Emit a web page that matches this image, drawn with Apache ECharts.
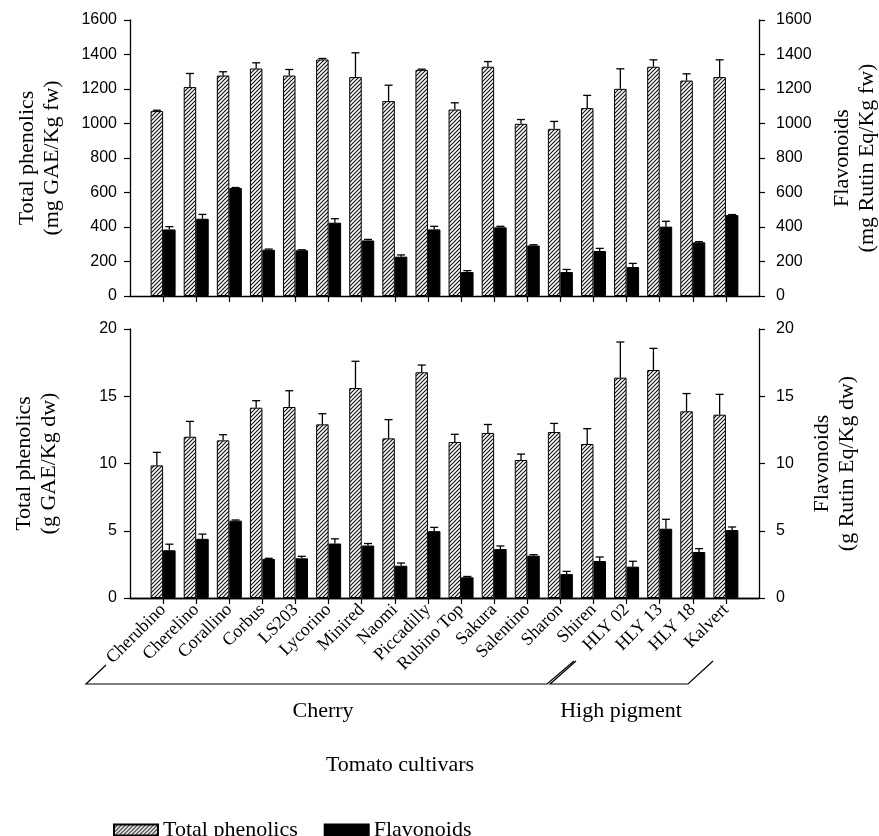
<!DOCTYPE html>
<html><head><meta charset="utf-8">
<script src="https://cdn.jsdelivr.net/npm/echarts@6/dist/echarts.min.js"></script>
<style>html,body{margin:0;padding:0;background:#fff}#c{width:879px;height:836px}</style>
</head><body><div id="c"></div>
<script>
// ---- data ----
const cultivars = ['Cherubino','Cherelino','Corallino','Corbus','LS203','Lycorino','Minired','Naomi','Piccadilly','Rubino Top','Sakura','Salentino','Sharon','Shiren','HLY 02','HLY 13','HLY 18','Kalvert'];
const phenolicsFw    = [1072,1211,1278,1319,1278,1371,1269,1130,1311,1081,1329,998,969,1089,1201,1329,1249,1269];
const phenolicsFwErr = [5,79,22,33,35,6,141,92,4,39,30,25,43,74,116,40,39,100];
const flavonoidsFw    = [386,448,626,268,265,425,322,228,386,139,398,293,139,261,168,402,311,469];
const flavonoidsFwErr = [16,25,3,4,3,23,6,10,18,8,6,4,15,15,21,31,4,3];
const phenolicsDw    = [9.86,11.99,11.72,14.15,14.2,12.91,15.61,11.87,16.78,11.6,12.27,10.26,12.34,11.45,16.38,16.95,13.88,13.63];
const phenolicsDwErr = [0.97,1.14,0.42,0.52,1.21,0.79,1.99,1.39,0.54,0.57,0.63,0.44,0.64,1.14,2.65,1.61,1.32,1.51];
const flavonoidsDw    = [3.55,4.4,5.75,2.9,2.95,4.05,3.9,2.4,4.97,1.54,3.64,3.15,1.78,2.75,2.33,5.15,3.42,5.05];
const flavonoidsDwErr = [0.45,0.35,0.05,0.05,0.15,0.35,0.15,0.2,0.28,0.06,0.23,0.07,0.2,0.3,0.4,0.7,0.25,0.23];
const fwTicks = {min:0, max:1600, interval:200};
const dwTicks = {min:0, max:20, interval:5};
const seriesNames = ['Total phenolics','Flavonoids'];
const groupLabels = ['Cherry','High pigment'];
const xTitle = 'Tomato cultivars';
const yTitles = ['Total phenolics\n(mg GAE/Kg fw)','Flavonoids\n(mg Rutin Eq/Kg fw)','Total phenolics\n(g GAE/Kg dw)','Flavonoids\n(g Rutin Eq/Kg dw)'];

// ---- build ----
const cats = [''].concat(cultivars, ['']);
const N = cats.length;
const BAR_W = 12.5;
const SERIF = '"Liberation Serif","Times New Roman",serif';
const SANS = '"Liberation Sans",Arial,sans-serif';

function hatch(){
  const s = 4, c = document.createElement('canvas'); c.width = c.height = s;
  const g = c.getContext('2d');
  g.fillStyle = '#fff'; g.fillRect(0,0,s,s);
  g.strokeStyle = '#111'; g.lineWidth = 1.15;
  g.beginPath();
  g.moveTo(0,s); g.lineTo(s,0);
  g.moveTo(-1,1); g.lineTo(1,-1);
  g.moveTo(s-1,s+1); g.lineTo(s+1,s-1);
  g.stroke();
  return c;
}
const hatchFill = {image: hatch(), repeat: 'repeat'};

function bars(name, xi, yi, vals, fill){
  return {name, type:'bar', xAxisIndex:xi, yAxisIndex:yi, barWidth:BAR_W, barGap:'0%',
    data: vals.map((v,i)=>[i+1, v]),
    itemStyle:{color:fill, borderColor:'#000', borderWidth:1},
    emphasis:{disabled:true}, z:2};
}
function errs(xi, yi, vals, e, side){
  return {type:'custom', xAxisIndex:xi, yAxisIndex:yi, z:5, silent:true,
    data: vals.map((v,i)=>[i+1, v, v+e[i]]),
    renderItem:(params, api)=>{
      const lo = api.coord([api.value(0), api.value(1)]);
      const hi = api.coord([api.value(0), api.value(2)]);
      const cx = lo[0] + side*BAR_W/2;
      return {type:'group', children:[
        {type:'line', shape:{x1:cx,y1:lo[1],x2:cx,y2:hi[1]}, style:{stroke:'#000', lineWidth:1.3}},
        {type:'line', shape:{x1:cx-4,y1:hi[1],x2:cx+4,y2:hi[1]}, style:{stroke:'#000', lineWidth:1.3}}
      ]};
    }};
}
const axLine = {show:true, lineStyle:{color:'#000', width:1.3}};
function xAx(grid, labels){
  return {type:'category', gridIndex:grid, data:cats, boundaryGap:false,
    axisLine:axLine,
    axisTick:{show:true, inside:false, length:6, lineStyle:{color:'#000', width:1.2}, interval:(i)=>i>0 && i<N-1},
    axisLabel: labels ? {show:true, interval:0, rotate:45, margin:9, fontFamily:SERIF, fontSize:18, color:'#000'} : {show:false},
    splitLine:{show:false}};
}
function yAx(grid, pos, t, name, gap){
  return {type:'value', gridIndex:grid, position:pos, min:t.min, max:t.max, interval:t.interval,
    axisLine:axLine,
    axisTick:{show:true, inside:false, length:6, lineStyle:{color:'#000', width:1.2}},
    axisLabel:{fontFamily:SANS, fontSize:16, color:'#000', margin: pos==='left'?13:17, formatter:(v)=>String(v)},
    splitLine:{show:false},
    name, nameLocation:'middle', nameRotate:90, nameGap:gap,
    nameTextStyle:{fontFamily:SERIF, fontSize:22, lineHeight:25, color:'#000'}};
}

const option = {
  animation:false,
  backgroundColor:'#fff',
  grid:[
    {left:130, right:120, top:20, height:276, outerBoundsMode:'none', containLabel:false},
    {left:130, right:120, top:329, height:269, outerBoundsMode:'none', containLabel:false}
  ],
  xAxis:[
    xAx(0,false),
    xAx(1,true),
    {type:'category', gridIndex:1, position:'top', data:cats, boundaryGap:false,
      axisLine:axLine, axisTick:{show:false}, axisLabel:{show:false}, splitLine:{show:false}}
  ],
  yAxis:[
    yAx(0,'left',fwTicks,yTitles[0],65),
    yAx(0,'right',fwTicks,yTitles[1],71),
    yAx(1,'left',dwTicks,yTitles[2],68),
    yAx(1,'right',dwTicks,yTitles[3],51)
  ],
  legend:{left:108, top:814, itemWidth:44, itemHeight:11, itemGap:26, icon:'rect',
    data:seriesNames, textStyle:{fontFamily:SERIF, fontSize:22, color:'#000'}, selectedMode:false},
  series:[
    bars(seriesNames[0],0,0,phenolicsFw,hatchFill),
    bars(seriesNames[1],0,1,flavonoidsFw,'#000'),
    errs(0,0,phenolicsFw,phenolicsFwErr,-1),
    errs(0,1,flavonoidsFw,flavonoidsFwErr,1),
    bars(seriesNames[0],1,2,phenolicsDw,hatchFill),
    bars(seriesNames[1],1,3,flavonoidsDw,'#000'),
    errs(1,2,phenolicsDw,phenolicsDwErr,-1),
    errs(1,3,flavonoidsDw,flavonoidsDwErr,1)
  ],
  graphic:[
    {type:'polyline', shape:{points:[[106,665],[86,684],[547,684],[574,661]]}, style:{stroke:'#000', lineWidth:1.2, fill:null}},
    {type:'polyline', shape:{points:[[576,661],[550,684],[688,684],[713,661]]}, style:{stroke:'#000', lineWidth:1.2, fill:null}},
    {type:'text', x:323, y:711, style:{text:groupLabels[0], font:'22px '+SERIF, fill:'#000', align:'center', verticalAlign:'middle'}},
    {type:'text', x:621, y:711, style:{text:groupLabels[1], font:'22px '+SERIF, fill:'#000', align:'center', verticalAlign:'middle'}},
    {type:'text', x:400, y:765, style:{text:xTitle, font:'22px '+SERIF, fill:'#000', align:'center', verticalAlign:'middle'}}
  ]
};
const chart = echarts.init(document.getElementById('c'), null, {renderer:'canvas'});
chart.setOption(option);
</script>
</body></html>
